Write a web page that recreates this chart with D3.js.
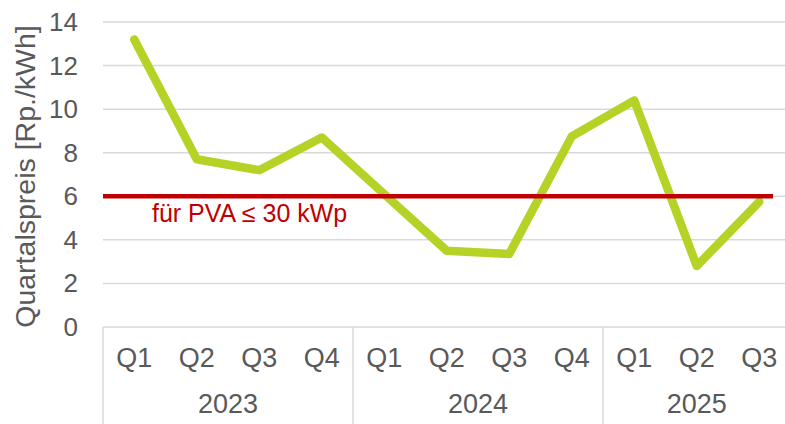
<!DOCTYPE html>
<html>
<head>
<meta charset="utf-8">
<script src="https://cdn.jsdelivr.net/npm/d3@7"></script>
<style>
  body { margin: 0; background: #fff; }
  svg { display: block; font-family: "Liberation Sans", Arial, sans-serif; }
</style>
</head>
<body>
<script>
// data
var quarters = ['Q1', 'Q2', 'Q3', 'Q4', 'Q1', 'Q2', 'Q3', 'Q4', 'Q1', 'Q2', 'Q3']
var years = ['2023', '2023', '2023', '2023', '2024', '2024', '2024', '2024', '2025', '2025', '2025']
var prices = [13.2, 7.7, 7.2, 8.7, 6.1, 3.5, 3.35, 8.75, 10.4, 2.8, 5.75]
var yTicks = [0, 2, 4, 6, 8, 10, 12, 14]
var refValue = 6
var refLabel = 'für PVA ≤ 30 kWp'
var yTitle = 'Quartalspreis [Rp./kWh]'

const chart = () => {
    var width = 785,
        height = 424
    var plotLeft = 103, plotTop = 22, plotBottom = 327
    var step = 62.5

    var svg = d3.select('body').append('svg')
        .attr('width', width)
        .attr('height', height)

    var keys = d3.range(quarters.length)
    var x = d3.scaleBand()
        .domain(keys)
        .range([plotLeft, plotLeft + step * keys.length])
        .padding(0)

    var y = d3.scaleLinear()
        .domain([0, 14])
        .range([plotBottom, plotTop])

    // gridlines
    svg.append('g')
        .selectAll('line')
        .data(yTicks.filter(d => d > 0)).enter()
        .append('line')
        .attr('x1', plotLeft)
        .attr('x2', width)
        .attr('y1', d => y(d))
        .attr('y2', d => y(d))
        .attr('stroke', '#d9d9d9')
        .attr('stroke-width', 1.5)

    // y tick labels
    svg.append('g')
        .selectAll('text')
        .data(yTicks).enter()
        .append('text')
        .attr('x', 78)
        .attr('y', d => y(d) + 9)
        .attr('text-anchor', 'end')
        .attr('fill', '#595959')
        .style('font-size', '26px')
        .text(d => d)

    // y title
    svg.append('text')
        .attr('transform', 'translate(35,' + ((plotTop + plotBottom) / 2 + 2) + ') rotate(-90)')
        .attr('text-anchor', 'middle')
        .attr('fill', '#595959')
        .style('font-size', '28.5px')
        .text(yTitle)

    // category axis
    var axis = svg.append('g')
    axis.append('line')
        .attr('x1', plotLeft).attr('x2', width)
        .attr('y1', plotBottom).attr('y2', plotBottom)
        .attr('stroke', '#d9d9d9')
        .attr('stroke-width', 1.5)

    // year group boundaries
    var groups = d3.groups(keys, i => years[i])
    var bounds = [keys[0]].concat(groups.map(g => g[1][g[1].length - 1] + 1))
    axis.selectAll('line.sep')
        .data(bounds).enter()
        .append('line')
        .attr('class', 'sep')
        .attr('x1', i => i < keys.length ? x(i) : x.range()[1])
        .attr('x2', i => i < keys.length ? x(i) : x.range()[1])
        .attr('y1', plotBottom)
        .attr('y2', height)
        .attr('stroke', '#d9d9d9')
        .attr('stroke-width', 1.5)

    axis.selectAll('text.q')
        .data(keys).enter()
        .append('text')
        .attr('class', 'q')
        .attr('x', i => x(i) + x.bandwidth() / 2)
        .attr('y', 367)
        .attr('text-anchor', 'middle')
        .attr('fill', '#595959')
        .style('font-size', '27px')
        .text(i => quarters[i])

    axis.selectAll('text.yr')
        .data(groups).enter()
        .append('text')
        .attr('class', 'yr')
        .attr('x', g => (x(g[1][0]) + x(g[1][g[1].length - 1]) + x.bandwidth()) / 2)
        .attr('y', 413)
        .attr('text-anchor', 'middle')
        .attr('fill', '#595959')
        .style('font-size', '27px')
        .text(g => g[0])

    // price line
    var line = d3.line()
        .x(i => x(i) + x.bandwidth() / 2)
        .y(i => y(prices[i]))

    svg.append('path')
        .datum(keys)
        .attr('d', line)
        .attr('fill', 'none')
        .attr('stroke', '#b5d327')
        .attr('stroke-width', 8.5)
        .attr('stroke-linejoin', 'round')
        .attr('stroke-linecap', 'round')

    // reference line
    var refEnd = x(keys[keys.length - 1]) + x.bandwidth() * 0.72
    svg.append('line')
        .attr('x1', plotLeft)
        .attr('x2', refEnd)
        .attr('y1', y(refValue))
        .attr('y2', y(refValue))
        .attr('stroke', '#c00000')
        .attr('stroke-width', 4.5)

    svg.append('text')
        .attr('x', 152)
        .attr('y', y(refValue) + 26)
        .attr('fill', '#c00000')
        .style('font-size', '25px')
        .text(refLabel)
}

chart()
</script>
</body>
</html>
